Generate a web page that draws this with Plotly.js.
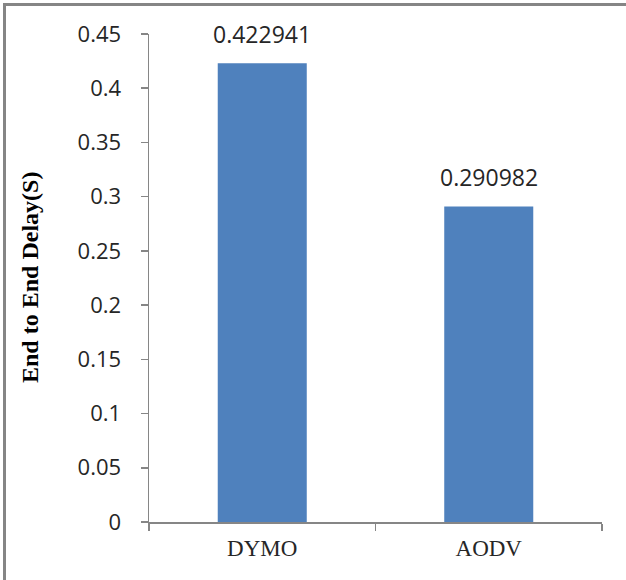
<!DOCTYPE html>
<html>
<head>
<meta charset="utf-8">
<script src="https://cdn.plot.ly/plotly-3.0.1.min.js"></script>
<style>
  html, body { margin: 0; padding: 0; background: #ffffff; }
  #wrap { position: relative; width: 626px; height: 580px; }
  #chart { position: absolute; left: 0; top: 0; width: 626px; height: 580px; }
  #frame { position: absolute; left: 3px; top: 3px; right: 0; bottom: 0;
           border-left: 3px solid #858585; border-top: 3px solid #858585; pointer-events: none; }
</style>
</head>
<body>
<div id="wrap">
  <div id="chart"></div>
  <div id="frame"></div>
</div>
<script>
const categories = ["DYMO", "AODV"];
const delayValues = [0.422941, 0.290982];
const valueLabels = ["0.422941", "0.290982"];
const yTickValues = [0, 0.05, 0.1, 0.15, 0.2, 0.25, 0.3, 0.35, 0.4, 0.45];
const yTickLabels = ["0", "0.05", "0.1", "0.15", "0.2", "0.25", "0.3", "0.35", "0.4", "0.45"];

const trace = {
  type: "bar",
  x: categories,
  y: delayValues,
  marker: { color: "#4f81bd", line: { width: 0 } },
  hoverinfo: "none"
};

const annotations = categories.map((c, i) => ({
  x: c, y: delayValues[i], xref: "x", yref: "y",
  text: valueLabels[i], showarrow: false,
  yanchor: "bottom", yshift: 11,
  font: { family: "Open Sans, Liberation Sans, sans-serif", size: 23, color: "#262626" }
}));

annotations.push({
  text: "End to End Delay(S)",
  xref: "paper", yref: "paper",
  x: (30 - 149) / 453, y: (522 - 278) / 488,
  xanchor: "center", yanchor: "middle",
  textangle: -90, showarrow: false,
  font: { family: "Liberation Serif, Times New Roman, serif", size: 24, color: "#000000", weight: "bold" }
});

const layout = {
  width: 626, height: 580,
  margin: { l: 149, r: 24, t: 34, b: 58, pad: 0 },
  paper_bgcolor: "#ffffff", plot_bgcolor: "#ffffff",
  showlegend: false,
  bargap: 0.607,
  xaxis: {
    type: "category",
    range: [-0.5, 1.5],
    showline: true, linecolor: "#868686", linewidth: 1.5,
    ticks: "outside", tickson: "boundaries", ticklen: 7, tickcolor: "#868686", tickwidth: 1.5,
    showgrid: false, zeroline: false,
    tickfont: { family: "Liberation Serif, Times New Roman, serif", size: 23, color: "#262626" },
    ticklabelstandoff: 5
  },
  yaxis: {
    range: [0, 0.45],
    tickvals: yTickValues, ticktext: yTickLabels,
    showline: true, linecolor: "#868686", linewidth: 1.5,
    ticks: "outside", ticklen: 7, tickcolor: "#868686", tickwidth: 1.5,
    showgrid: false, zeroline: false,
    tickfont: { family: "Open Sans, Liberation Sans, sans-serif", size: 22, color: "#262626" },
    ticklabelstandoff: 15
  },
  annotations: annotations
};

Plotly.newPlot("chart", [trace], layout, { displayModeBar: false, staticPlot: true });
</script>
</body>
</html>
